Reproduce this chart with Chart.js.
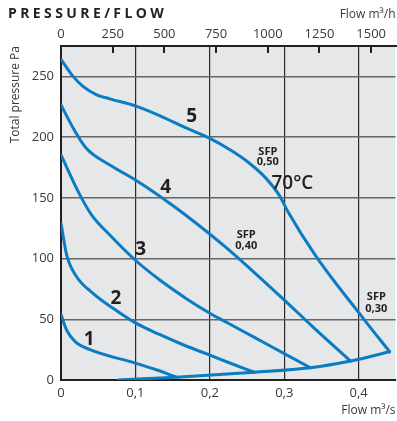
<!DOCTYPE html>
<html><head><meta charset="utf-8">
<script src="https://cdn.jsdelivr.net/npm/chart.js@4"></script>
<style>html,body{margin:0;padding:0;background:#fff}#wrap{width:397px;height:421px}</style>
</head><body><div id="wrap"><canvas id="c" width="397" height="421"></canvas></div>
<script>
// ---- Data (flow m³/s, total pressure Pa) ----
const fan1Flow = [0, 0.0076, 0.019, 0.039, 0.1, 0.13, 0.155];
const fan1Pres = [54, 41, 31.6, 25, 13.9, 8, 2.3];
const fan2Flow = [0, 0.0076, 0.021, 0.043, 0.07, 0.1, 0.1324, 0.168, 0.2, 0.226, 0.2595];
const fan2Pres = [129, 103, 85, 71.4, 59, 47, 37.5, 28, 20.5, 14.2, 6.4];
const fan3Flow = [0, 0.0254, 0.041, 0.0656, 0.1, 0.1324, 0.168, 0.2, 0.226, 0.258, 0.3, 0.335];
const fan3Pres = [185.3, 152.4, 136, 119.4, 98.6, 82.5, 67.2, 55, 46.3, 35.7, 21.7, 10.1];
const fan4Flow = [0, 0.0165, 0.034, 0.0656, 0.1, 0.137, 0.166, 0.222, 0.258, 0.298, 0.338, 0.389];
const fan4Pres = [226.5, 207.3, 190.8, 177, 164.7, 149.5, 136.5, 109, 89.5, 67, 44, 15.6];
const fan5Flow = [0, 0.0165, 0.03, 0.048, 0.0656, 0.1, 0.1324, 0.168, 0.2, 0.226, 0.249, 0.2756, 0.2934, 0.3046, 0.3425, 0.4058, 0.4415];
const fan5Pres = [264, 249.8, 241.6, 234.8, 231.5, 225.7, 217.7, 207.5, 199, 190, 180.5, 166, 152, 139, 102, 51, 23.3];
const systemFlow = [0.077, 0.155, 0.2595, 0.335, 0.389, 0.4415];
const systemPres = [0, 2.3, 6.4, 10.1, 15.6, 23.3];

// ---- Tick labels ----
const flowM3sTicks = ['0', '0,1', '0,2', '0,3', '0,4'];
const flowM3hTicks = ['0', '250', '500', '750', '1000', '1250', '1500'];
const pressureTicks = ['0', '50', '100', '150', '200', '250'];

// ---- Text annotations (in data coordinates) ----
const notes = [
  {t: '1', x: 0.0379, y: 33, f: 'bold 19px "Open Sans"'},
  {t: '2', x: 0.0737, y: 66.7, f: 'bold 19px "Open Sans"'},
  {t: '3', x: 0.107, y: 107, f: 'bold 19px "Open Sans"'},
  {t: '4', x: 0.1405, y: 158.6, f: 'bold 19px "Open Sans"'},
  {t: '5', x: 0.1757, y: 216.9, f: 'bold 19px "Open Sans"'},
  {t: 'SFP', x: 0.2779, y: 188.2, f: 'bold 11px "Open Sans"'},
  {t: '0,50', x: 0.2779, y: 179.2, f: 'bold 11px "Open Sans"'},
  {t: '70°C', x: 0.311, y: 162, f: '600 19px "Open Sans"'},
  {t: 'SFP', x: 0.2489, y: 119.4, f: 'bold 11px "Open Sans"'},
  {t: '0,40', x: 0.2489, y: 110.3, f: 'bold 11px "Open Sans"'},
  {t: 'SFP', x: 0.4237, y: 68.4, f: 'bold 11px "Open Sans"'},
  {t: '0,30', x: 0.4237, y: 58.5, f: 'bold 11px "Open Sans"'}
];

const pts = (xs, ys) => xs.map((v, i) => ({x: v, y: ys[i]}));
const BLUE = '#0a7cc4';
const mk = (label, xs, ys) => ({label, data: pts(xs, ys), borderColor: BLUE, borderWidth: 3,
  pointRadius: 0, fill: false, cubicInterpolationMode: 'monotone', borderCapStyle: 'round', borderJoinStyle: 'round'});

const textPlugin = {
  id: 'texts',
  beforeDraw(chart) {
    const {ctx, chartArea: a} = chart;
    ctx.save();
    ctx.fillStyle = '#e6e7e8';
    ctx.fillRect(a.left, a.top, a.right - a.left, a.bottom - a.top);
    ctx.restore();
  },
  afterDatasetsDraw(chart) {
    const {ctx, scales: {x, y}} = chart;
    ctx.save();
    ctx.fillStyle = '#231f20';
    ctx.textAlign = 'center';
    ctx.textBaseline = 'middle';
    notes.forEach(n => {
      ctx.font = n.f;
      ctx.fillText(n.t, x.getPixelForValue(n.x), y.getPixelForValue(n.y));
    });
    ctx.restore();
  },
  afterDraw(chart) {
    const {ctx} = chart;
    ctx.save();
    ctx.fillStyle = '#231f20';
    ctx.font = 'bold 14px "Open Sans"';
    ctx.textAlign = 'left';
    ctx.textBaseline = 'middle';
    let cx = 8;
    for (const ch of 'PRESSURE/FLOW') {
      ctx.fillText(ch, cx, 14);
      cx += ctx.measureText(ch).width + 3.4;
    }
    ctx.restore();
  }
};

const tickFont = {family: '"Open Sans"', size: 13};
const titleFont = {family: '"Open Sans"', size: 12};

new Chart(document.getElementById('c'), {
  type: 'line',
  data: {datasets: [
    mk('1', fan1Flow, fan1Pres), mk('2', fan2Flow, fan2Pres), mk('3', fan3Flow, fan3Pres),
    mk('4', fan4Flow, fan4Pres), mk('5', fan5Flow, fan5Pres), mk('system', systemFlow, systemPres)
  ]},
  options: {
    responsive: false, animation: false, devicePixelRatio: 1,
    layout: {padding: 0},
    plugins: {legend: {display: false}, tooltip: {enabled: false}},
    scales: {
      x: {
        type: 'linear', position: 'bottom', min: 0, max: 0.4495,
        afterFit(s) { s.height = 41; },
        ticks: {stepSize: 0.1, includeBounds: false, padding: 5, color: '#3a3a3a', font: tickFont,
          maxRotation: 0, callback: (v, i) => flowM3sTicks[i]},
        grid: {color: '#2a2a2a', lineWidth: 1.2, drawTicks: false},
        border: {display: true, color: '#231f20', width: 2},
        title: {display: true, text: 'Flow m³/s', align: 'end', color: '#3a3a3a', font: titleFont, padding: {top: 0, bottom: 3}}
      },
      x2: {
        type: 'linear', position: 'top', min: 0, max: 1618,
        afterFit(s) { s.height = 46; },
        ticks: {stepSize: 250, includeBounds: false, padding: 11, color: '#3a3a3a', font: tickFont,
          maxRotation: 0, callback: (v, i) => flowM3hTicks[i]},
        grid: {drawOnChartArea: false, tickLength: -7, color: '#231f20', lineWidth: 2},
        border: {display: true, color: '#231f20', width: 2},
        title: {display: true, text: 'Flow m³/h', align: 'end', color: '#3a3a3a', font: titleFont, padding: {top: 7, bottom: 0}}
      },
      y: {
        min: 0, max: 275,
        afterFit(s) { s.width = 61; },
        ticks: {stepSize: 50, includeBounds: false, padding: 7, color: '#3a3a3a', font: tickFont,
          callback: (v, i) => pressureTicks[i]},
        grid: {color: '#666', lineWidth: 1.5, drawTicks: false},
        border: {display: true, color: '#231f20', width: 2},
        title: {display: true, text: 'Total pressure Pa', align: 'end', color: '#3a3a3a', font: titleFont, padding: {top: 8, bottom: 0}}
      }
    }
  },
  plugins: [textPlugin]
});
</script>
</body></html>
